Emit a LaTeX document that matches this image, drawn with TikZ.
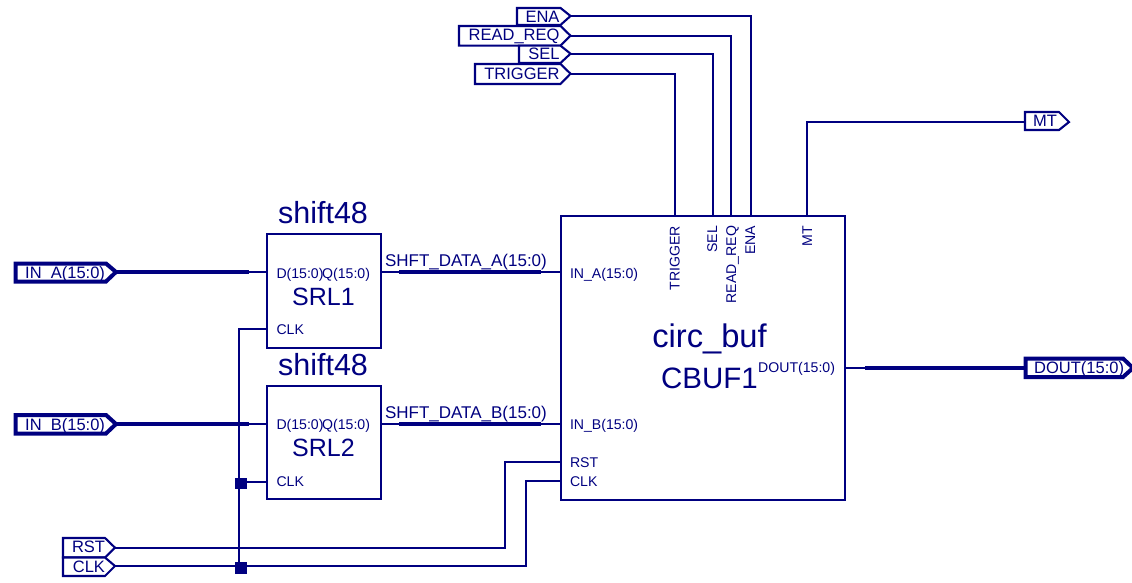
\documentclass[tikz,border=0pt]{standalone}
\usepackage{fontspec}
\setmainfont{Liberation Sans}
\definecolor{sch}{HTML}{000080}
\tikzset{
  x=1pt,y=-1pt,
  every node/.style={inner sep=0pt,outer sep=0pt,text=sch},
  wire/.style={draw=sch,line width=2.1pt,line join=miter},
  bus/.style={draw=sch,line width=4pt},
  block/.style={draw=sch,line width=2.1pt,rectangle},
  pinlabel/.style={font=\fontsize{14.1}{15}\selectfont},
  sideways/.style={pinlabel,rotate=90,anchor=base east},
  portlabel/.style={font=\fontsize{16.5}{17}\selectfont,anchor=base east},
  netlabel/.style={font=\fontsize{17}{18}\selectfont,anchor=base west},
  junction/.style={fill=sch,draw=none,minimum width=12pt,minimum height=11pt,rectangle},
}
% name, left, tip x, top, bottom, wire y, text right, baseline, line width (text in \portname)
\newcommand{\portshape}[9]{%
  \draw[draw=sch,line width=#9,line join=miter,fill=white]
    (#2,#4) -- (#3-10,#4) -- (#3,#6) -- (#3-10,#5) -- (#2,#5) -- cycle;
  \coordinate (#1) at (#3,#6);
  \coordinate (#1L) at (#2,#6);
  \node[portlabel] (#1text) at (#7,#8) {\csname portname\endcsname};
}
\begin{document}
\begin{tikzpicture}
\useasboundingbox (0,0) rectangle (1132,583);

% blocks
\node[block,minimum width=114pt,minimum height=114pt] (srl1) at (324,291) {};
\node[block,minimum width=114pt,minimum height=113pt] (srl2) at (324,442.5) {};
\node[block,minimum width=284pt,minimum height=284pt] (cbuf) at (703,358) {};

% ports
\def\portname{IN\_A(15:0)}\portshape{inA}{15.5}{116}{263.5}{281.5}{272}{105}{278}{4pt}
\def\portname{IN\_B(15:0)}\portshape{inB}{15.5}{116}{415}{433.5}{424}{105}{430}{4pt}
\def\portname{RST}\portshape{rst}{63}{115}{538}{557.5}{547.7}{105}{552.7}{2.1pt}
\def\portname{CLK}\portshape{clk}{63}{115}{557.5}{576}{566}{105}{572}{2.1pt}
\def\portname{ENA}\portshape{ena}{517}{570.5}{8}{25}{16}{559.5}{22.5}{2.1pt}
\def\portname{READ\_REQ}\portshape{rdq}{459}{570.5}{26}{45.7}{35.7}{559.5}{41}{2.1pt}
\def\portname{SEL}\portshape{sel}{519}{570.5}{45.7}{63}{53.7}{559.5}{60}{2.1pt}
\def\portname{TRIGGER}\portshape{trg}{475}{570.5}{64}{84}{73.7}{559.5}{79.5}{2.1pt}
\def\portname{MT}\portshape{mt}{1025}{1069}{112}{130}{122}{1057}{126.5}{2.1pt}
\def\portname{DOUT(15:0)}\portshape{dout}{1025.5}{1133}{358.5}{377}{368}{1124}{373}{4pt}

% pin coordinates
\coordinate (aD) at (srl1.west |- inA);
\coordinate (aQ) at (srl1.east |- inA);
\coordinate (aC) at (267,329);
\coordinate (bD) at (srl2.west |- inB);
\coordinate (bQ) at (srl2.east |- inB);
\coordinate (bC) at (267,481.7);
\coordinate (cA) at (cbuf.west |- inA);
\coordinate (cB) at (cbuf.west |- inB);
\coordinate (cR) at (561,462);
\coordinate (cC) at (561,481);
\coordinate (cO) at (cbuf.east |- dout);
\coordinate (busA1) at (249,272);
\coordinate (busB1) at (249,424);
\coordinate (qa1) at (399,272);
\coordinate (qa2) at (541,272);
\coordinate (qb1) at (399,424);
\coordinate (qb2) at (541,424);
\coordinate (do1) at (865,368);

% wires
\draw[bus] (inA) -- (busA1);
\draw[wire] (busA1) -- (aD);
\draw[bus] (inB) -- (busB1);
\draw[wire] (busB1) -- (bD);
\draw[wire] (aQ) -- (qa1);
\draw[bus] (qa1) -- (qa2);
\draw[wire] (qa2) -- (cA);
\draw[wire] (bQ) -- (qb1);
\draw[bus] (qb1) -- (qb2);
\draw[wire] (qb2) -- (cB);
\draw[wire] (cO) -- (do1);
\draw[bus] (do1) -- (doutL);

\draw[wire] (aC) -- (239,329) -- (239,566);
\draw[wire] (239,481.7) -- (bC);
\draw[wire] (clk) -- (526,566) -- (526,481) -- (cC);
\draw[wire] (rst) -- (505,547.7) -- (505,462) -- (cR);
\draw[wire] (ena) -- (751,16) -- (751,216);
\draw[wire] (rdq) -- (731,35.7) -- (731,216);
\draw[wire] (sel) -- (713,53.7) -- (713,216);
\draw[wire] (trg) -- (675,73.7) -- (675,216);
\draw[wire] (807,216) -- (807,122) -- (mtL);

% junctions
\node[junction] (j1) at (241,483) {};
\node[junction,minimum height=12pt] (j2) at (241,568) {};

% block names
\node[font=\fontsize{30.5}{31}\selectfont,anchor=base] (n1) at (323,223) {shift48};
\node[font=\fontsize{30.5}{31}\selectfont,anchor=base] (n2) at (323,375) {shift48};
\node[font=\fontsize{25}{26}\selectfont,anchor=base] (n3) at (323.5,305) {SRL1};
\node[font=\fontsize{25}{26}\selectfont,anchor=base] (n4) at (323.5,456) {SRL2};
\node[font=\fontsize{32.7}{33}\selectfont,anchor=base] (n5) at (709.5,347) {circ\_buf};
\node[font=\fontsize{29.5}{30}\selectfont,anchor=base] (n6) at (709.5,388) {CBUF1};

% pin labels
\node[pinlabel,anchor=base west] (l1) at (276.5,278) {D(15:0)};
\node[pinlabel,anchor=base east] (l2) at (370,278) {Q(15:0)};
\node[pinlabel,anchor=base west] (l3) at (276.5,334) {CLK};
\node[pinlabel,anchor=base west] (l4) at (276.5,429.5) {D(15:0)};
\node[pinlabel,anchor=base east] (l5) at (370,429.5) {Q(15:0)};
\node[pinlabel,anchor=base west] (l6) at (276.5,486) {CLK};
\node[pinlabel,anchor=base west] (l7) at (570,278) {IN\_A(15:0)};
\node[pinlabel,anchor=base west] (l8) at (570,429.5) {IN\_B(15:0)};
\node[pinlabel,anchor=base west] (l9) at (570,467) {RST};
\node[pinlabel,anchor=base west] (l10) at (570,486) {CLK};
\node[pinlabel,anchor=base east] (l11) at (835,372.5) {DOUT(15:0)};
\node[sideways] (l12) at (679.5,226) {TRIGGER};
\node[sideways] (l13) at (717,226) {SEL};
\node[sideways] (l14) at (736,226) {READ\_REQ};
\node[sideways] (l15) at (755,226) {ENA};
\node[sideways] (l16) at (812,226) {MT};

% net labels
\node[netlabel] (s1) at (385,266) {SHFT\_DATA\_A(15:0)};
\node[netlabel] (s2) at (385,418) {SHFT\_DATA\_B(15:0)};
\end{tikzpicture}
\end{document}
